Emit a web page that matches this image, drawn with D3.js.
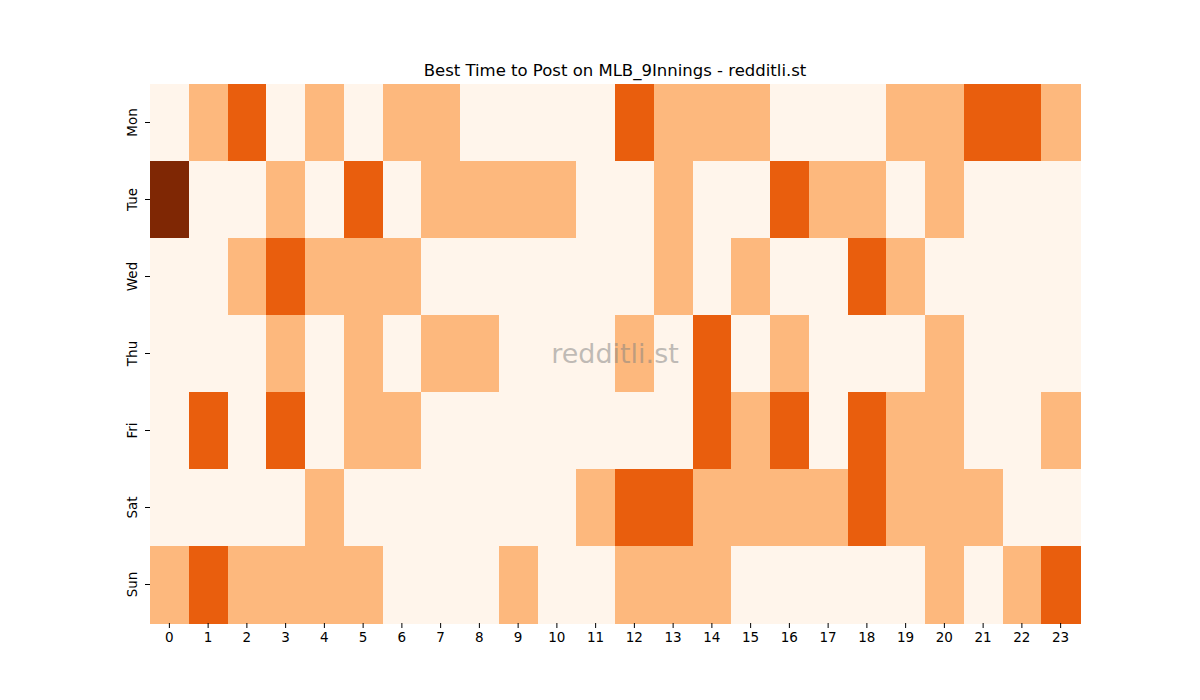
<!DOCTYPE html>
<html>
<head>
<meta charset="utf-8">
<script src="https://cdn.jsdelivr.net/npm/d3@7"></script>
<style>
  body { margin: 0; background: #fff; }
  text { font-family: "DejaVu Sans", sans-serif; }
</style>
</head>
<body>
<div id="chart"></div>
<script>
// dias e horas
const days = ["Mon", "Tue", "Wed", "Thu", "Fri", "Sat", "Sun"];
const hours = d3.range(24);

// niveis por dia (0 = fraco, 3 = melhor)
const mon = [0,1,2,0,1,0,1,1,0,0,0,0,2,1,1,1,0,0,0,1,1,2,2,1];
const tue = [3,0,0,1,0,2,0,1,1,1,1,0,0,1,0,0,2,1,1,0,1,0,0,0];
const wed = [0,0,1,2,1,1,1,0,0,0,0,0,0,1,0,1,0,0,2,1,0,0,0,0];
const thu = [0,0,0,1,0,1,0,1,1,0,0,0,1,0,2,0,1,0,0,0,1,0,0,0];
const fri = [0,2,0,2,0,1,1,0,0,0,0,0,0,0,2,1,2,0,2,1,1,0,0,1];
const sat = [0,0,0,0,1,0,0,0,0,0,0,1,2,2,1,1,1,1,2,1,1,1,0,0];
const sun = [1,2,1,1,1,1,0,0,0,1,0,0,1,1,1,0,0,0,0,0,1,0,1,2];
const rows = [mon, tue, wed, thu, fri, sat, sun];

const levels = [0, 1, 2, 3];
const levelColors = ["#fff5eb", "#fdb87d", "#e95e0d", "#7f2704"];

const width = 1200, height = 700;
const margin = { top: 84, right: 120, bottom: 77, left: 150 };

const svg = d3.select("#chart").append("svg")
    .attr("width", width)
    .attr("height", height);

const x = d3.scaleBand().domain(hours).range([margin.left, width - margin.right]);
const y = d3.scaleBand().domain(days).range([margin.top, height - margin.bottom]);
const color = d3.scaleOrdinal().domain(levels).range(levelColors);

const cells = [];
rows.forEach((vals, i) => vals.forEach((v, h) => cells.push({ day: days[i], hour: h, value: v })));

svg.append("g").selectAll("rect")
    .data(cells)
    .join("rect")
    .attr("x", d => x(d.hour))
    .attr("y", d => y(d.day))
    .attr("width", x.bandwidth() + 0.5)
    .attr("height", y.bandwidth() + 0.5)
    .attr("fill", d => color(d.value))
    .attr("shape-rendering", "crispEdges");

// eixo x
const xAxis = svg.append("g")
    .attr("transform", `translate(0,${height - margin.bottom})`)
    .call(d3.axisBottom(x).tickSize(5).tickPadding(4));
xAxis.select(".domain").remove();
xAxis.selectAll("text").style("font-size", "13.5px").attr("fill", "#000");
xAxis.selectAll("line").attr("stroke", "#000");

// eixo y
const yAxis = svg.append("g")
    .attr("transform", `translate(${margin.left},0)`)
    .call(d3.axisLeft(y).tickSize(5).tickPadding(4));
yAxis.select(".domain").remove();
yAxis.selectAll("line").attr("stroke", "#000");
yAxis.selectAll("text")
    .style("font-size", "13.5px")
    .attr("fill", "#000")
    .attr("text-anchor", "middle")
    .attr("dy", null)
    .attr("x", 0)
    .attr("transform", "translate(-13,0) rotate(-90)")
    .attr("dominant-baseline", "auto");

// titulo
svg.append("text")
    .attr("x", (margin.left + width - margin.right) / 2)
    .attr("y", 76)
    .attr("text-anchor", "middle")
    .style("font-size", "16.5px")
    .text("Best Time to Post on MLB_9Innings - redditli.st");

// marca d'agua
svg.append("text")
    .attr("x", (margin.left + width - margin.right) / 2)
    .attr("y", (margin.top + height - margin.bottom) / 2)
    .attr("text-anchor", "middle")
    .attr("dominant-baseline", "central")
    .style("font-size", "27px")
    .attr("fill", "#808080")
    .attr("fill-opacity", 0.5)
    .text("redditli.st");
</script>
</body>
</html>
